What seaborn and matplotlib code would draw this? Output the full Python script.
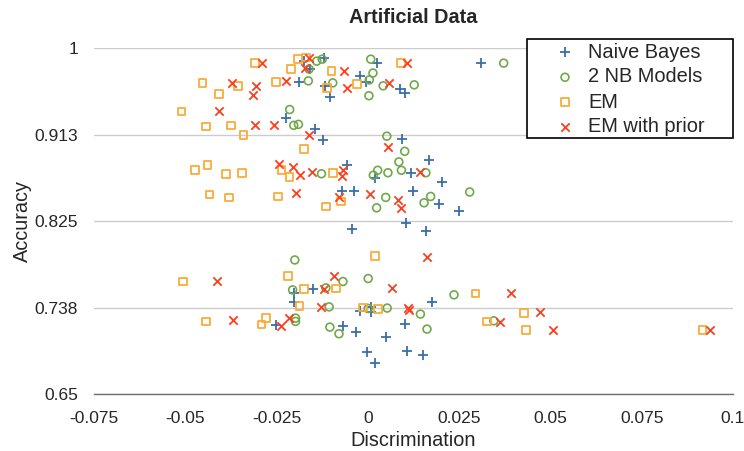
import matplotlib
matplotlib.use("Agg")
import matplotlib.pyplot as plt
from matplotlib.patches import Rectangle
import numpy as np
import pandas as pd
import seaborn as sns

# values
nb_x = [-0.0174, -0.0120, -0.0159, -0.0188, -0.0116, -0.0103, -0.0022, -0.0004, 0.0024, 0.0088,
        0.0101, -0.0224, -0.0145, -0.0122, 0.0311, 0.0094,
        -0.0058, 0.0019, -0.0072, -0.0038, -0.0044, 0.0168, 0.0118, 0.0202, 0.0124, 0.0195,
        0.0250, 0.0104, 0.0159,
        -0.0151, -0.0203, -0.0203, -0.0252, -0.0022, 0.0010, 0.0010, -0.0069, -0.0033, 0.0051,
        -0.0002, 0.0020, 0.0177, 0.0101, 0.0106, 0.0150]
nb_y = [0.987, 0.990, 0.979, 0.966, 0.962, 0.951, 0.972, 0.966, 0.985, 0.959,
        0.955, 0.929, 0.918, 0.907, 0.985, 0.9085,
        0.8815, 0.869, 0.856, 0.856, 0.8167, 0.8866, 0.874, 0.865, 0.8553, 0.842,
        0.835, 0.8234, 0.815,
        0.756, 0.752, 0.7433, 0.720, 0.7342, 0.7376, 0.7332, 0.719, 0.7124, 0.7074,
        0.6928, 0.6811, 0.7427, 0.7208, 0.6932, 0.6898]

nb2_x = [-0.0140, -0.0125, -0.0161, -0.0163, -0.0096, 0.0008, 0.0014, 0.0004, 0.0042, 0.0003,
         0.0127, 0.0372, -0.0214, -0.0203, -0.0190, 0.0052,
         0.0101, 0.0085, 0.0027, 0.0055, 0.0092, 0.0159, 0.0279, 0.0049, 0.0172, 0.0154,
         -0.0127, 0.0015, 0.0024,
         -0.0200, -0.0206, -0.0115, -0.0068, 0.0001, -0.0106, 0.0001, 0.0053, -0.0198, -0.0198,
         -0.0104, -0.0079, 0.0144, 0.0162, 0.0236, 0.0345]
nb2_y = [0.987, 0.989, 0.979, 0.967, 0.965, 0.989, 0.975, 0.968, 0.962, 0.952,
         0.963, 0.985, 0.938, 0.922, 0.923, 0.911,
         0.8957, 0.885, 0.8765, 0.874, 0.8765, 0.874, 0.8545, 0.849, 0.850, 0.8436,
         0.873, 0.8715, 0.8385,
         0.7857, 0.7554, 0.7574, 0.7639, 0.7669, 0.7382, 0.7366, 0.737, 0.7268, 0.7235,
         0.7177, 0.711, 0.7309, 0.7157, 0.7504, 0.7241]

em_x = [-0.0309, -0.0191, -0.0170, -0.0211, -0.0099, -0.0453, -0.0355, -0.0251, -0.0111, -0.0029,
        -0.0407, -0.0510, -0.0444, -0.0374, -0.0340, -0.0174, 0.0090,
        -0.0473, -0.0439, -0.0388, -0.0344, -0.0236, -0.0215, -0.0095, -0.0434, -0.0380,
        -0.0246, -0.0115, -0.0073,
        -0.0506, 0.0019, -0.0218, -0.0174, -0.0088, -0.0187, -0.0013, 0.0028, -0.0444, -0.0279,
        -0.0291, 0.0295, 0.0427, 0.0327, 0.0433, 0.0917]
em_y = [0.985, 0.989, 0.9905, 0.979, 0.977, 0.965, 0.962, 0.966, 0.960, 0.964,
        0.954, 0.936, 0.921, 0.922, 0.9125, 0.898, 0.985,
        0.8765, 0.882, 0.8725, 0.874, 0.877, 0.870, 0.8735, 0.8518, 0.849,
        0.850, 0.840, 0.845,
        0.7639, 0.7897, 0.7695, 0.756, 0.7568, 0.7393, 0.7376, 0.736, 0.7235, 0.7268,
        0.7205, 0.7518, 0.7319, 0.7235, 0.715, 0.715]

emp_x = [-0.0291, -0.0161, -0.0172, -0.0065, -0.0373, -0.0305, -0.0314, -0.0225, -0.0056, 0.0057,
         -0.0408, -0.0309, -0.0258, -0.0160, 0.0054, 0.0108,
         -0.0242, -0.0204, -0.0186, -0.0154, -0.0068, -0.0071, -0.0197, -0.0079, 0.0007, 0.0083,
         0.0090, 0.0142,
         -0.0413, -0.0092, -0.0120, 0.0065, -0.0129, -0.0369, -0.0215, -0.0239, 0.0161, 0.0110,
         0.0112, 0.0392, 0.0471, 0.0361, 0.0506, 0.0937]
emp_y = [0.985, 0.9905, 0.980, 0.977, 0.965, 0.962, 0.953, 0.967, 0.960, 0.965,
         0.937, 0.922, 0.922, 0.912, 0.900, 0.985,
         0.883, 0.8795, 0.872, 0.875, 0.877, 0.8705, 0.853, 0.849, 0.852, 0.846,
         0.8385, 0.8745,
         0.7639, 0.7695, 0.756, 0.7578, 0.7376, 0.7248, 0.7268, 0.719, 0.789, 0.737,
         0.735, 0.7518, 0.7326, 0.723, 0.715, 0.715]

series_names = ["Naive Bayes", "2 NB Models", "EM", "EM with prior"]
x_ticks = [-0.075, -0.05, -0.025, 0, 0.025, 0.05, 0.075, 0.1]
x_labels = ["-0.075", "-0.05", "-0.025", "0", "0.025", "0.05", "0.075", "0.1"]
y_ticks = [0.65, 0.7375, 0.825, 0.9125, 1.0]
y_labels = ["0.65", "0.738", "0.825", "0.913", "1"]

df = pd.concat([
    pd.DataFrame({"Discrimination": nb_x, "Accuracy": nb_y, "series": series_names[0]}),
    pd.DataFrame({"Discrimination": nb2_x, "Accuracy": nb2_y, "series": series_names[1]}),
    pd.DataFrame({"Discrimination": em_x, "Accuracy": em_y, "series": series_names[2]}),
    pd.DataFrame({"Discrimination": emp_x, "Accuracy": emp_y, "series": series_names[3]}),
])

sns.set_style("white")
plt.rcParams["font.family"] = ["Liberation Sans", "DejaVu Sans"]

fig = plt.figure(figsize=(7.44, 4.51), dpi=100)
ax = fig.add_axes([0.1263, 0.1264, 0.8589, 0.7665])

styles = {
    "Naive Bayes": dict(marker="+", s=50, color="#3b6ea8", linewidths=1.3),
    "2 NB Models": dict(marker="o", s=32, facecolors="none", edgecolors="#6fa94a", linewidths=1.2),
    "EM": dict(marker="s", s=30, facecolors="none", edgecolors="#fbab3a", linewidths=1.3),
    "EM with prior": dict(marker="x", s=36, color="#fb3f1f", linewidths=1.3),
}

for name in series_names:
    sub = df[df["series"] == name]
    sns.scatterplot(data=sub, x="Discrimination", y="Accuracy", ax=ax, label=name, **styles[name])

ax.set_xlim(-0.075, 0.1)
ax.set_ylim(0.65, 1.0)
ax.set_xticks(x_ticks)
ax.set_xticklabels(x_labels)
ax.set_yticks(y_ticks)
ax.set_yticklabels(y_labels)
ax.tick_params(axis="both", length=0, labelsize=12.5)
ax.tick_params(axis="x", pad=12)
ax.tick_params(axis="y", pad=11.5)
ax.yaxis.grid(True, color="#cccccc", linewidth=1)
ax.set_axisbelow(True)
for side in ["top", "right", "left"]:
    ax.spines[side].set_visible(False)
ax.spines["bottom"].set_color("#6e6e6e")
ax.spines["bottom"].set_linewidth(1)

ax.set_xlabel("Discrimination", fontsize=14.3, labelpad=4)
ax.set_ylabel("Accuracy", fontsize=14.3, labelpad=2)
ax.set_title("Artificial Data", fontsize=14.3, fontweight="bold", pad=18)

# legend box like the original (frame drawn separately)
handles, labels = ax.get_legend_handles_labels()
if ax.get_legend() is not None:
    ax.get_legend().remove()
box = Rectangle((527 / 744, 1 - 138 / 451), 206 / 744, 99 / 451, transform=fig.transFigure,
                facecolor="white", edgecolor="black", linewidth=1.2, zorder=3)
fig.patches.append(box)
leg = fig.legend(handles, labels, loc="upper left", bbox_to_anchor=(545 / 744, 1 - 42.5 / 451),
                 fontsize=14.4, frameon=False, borderpad=0, labelspacing=0.3,
                 handlelength=2.0, handletextpad=0.15, borderaxespad=0)
leg.set_zorder(4)

fig.savefig("out.png", dpi=100)
